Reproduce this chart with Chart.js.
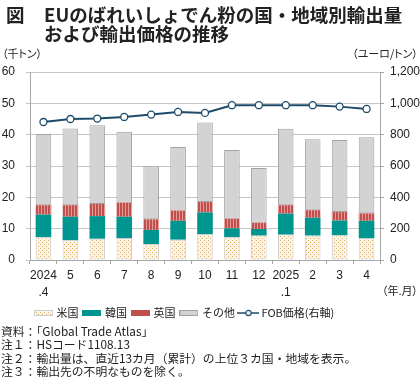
<!DOCTYPE html>
<html><head><meta charset="utf-8">
<script src="https://cdn.jsdelivr.net/npm/chart.js@4"></script>
<style>
html,body{margin:0;padding:0;background:#fff}
body{width:420px;height:381px;position:relative;overflow:hidden;font-family:"Noto Sans CJK JP","Noto Sans",sans-serif;color:#222}
#c{position:absolute;left:0;top:0}
.a{position:absolute;white-space:nowrap}
.p{font-feature-settings:"palt"}
.ttl{font-size:18.5px;line-height:19px;font-weight:bold;top:5px}
.unit{font-size:11px;line-height:12px;top:47px}
.notes{font-size:11.8px;line-height:13.3px;left:1px;top:324px}
</style></head><body>
<canvas id="c" width="420" height="381"></canvas>
<div class="a ttl" style="left:6px">図</div>
<div class="a ttl" style="left:44px">EUのばれいしょでん粉の国・地域別輸出量<br>および輸出価格の推移</div>
<div class="a unit p" style="left:2px">（千トン）</div>
<div class="a unit p" style="right:2px">（ユーロ/トン）</div>
<div class="a unit p" style="right:2px;top:284px">（年.月）</div>
<div class="a notes">資料：「Global Trade Atlas」<br>注１：HSコード1108.13<br>注２：輸出量は、直近13カ月（累計）の上位３カ国・地域を表示。<br>注３：輸出先の不明なものを除く。</div>
<script>
const categories = [['2024','.4'],'5','6','7','8','9','10','11','12',['2025','.1'],'2','3','4'];
const seriesNames = ['米国','韓国','英国','その他','FOB価格(右軸)'];
const usValues    = [7.3,6.3,6.8,7.0,5.1,6.5,8.3,7.3,7.8,8.1,7.8,7.9,7.0];
const koreaValues = [7.2,7.5,7.2,6.8,4.5,6.0,6.9,2.8,2.1,6.7,5.7,4.7,5.5];
const ukValues    = [3.0,3.7,3.9,4.5,3.4,3.3,3.3,3.1,2.0,2.7,2.4,2.7,2.4];
const otherValues = [22.7,24.5,25.1,22.6,16.9,20.3,25.4,21.9,17.5,24.4,22.6,23.0,24.3];
const fobPrice    = [881,900,903,913,928,945,939,988,988,988,988,979,964];
const leftAxis  = {min:0, max:60, step:10};
const rightAxis = {min:0, max:1200, step:200};

function tile(w,h,draw){const c=document.createElement('canvas');c.width=w;c.height=h;draw(c.getContext('2d'));return c;}
const dotTile = tile(4,4,x=>{x.fillStyle='#fdf4e4';x.fillRect(0,0,4,4);x.fillStyle='#dfae66';x.fillRect(0,0,1,1);x.fillRect(2,2,1,1);});
const stripeTile = tile(3,1,x=>{x.fillStyle='#c0504d';x.fillRect(0,0,3,1);x.fillStyle='#e59a96';x.fillRect(2,0,1,1);});
const pctx = document.getElementById('c').getContext('2d');
const usFill = pctx.createPattern(dotTile,'repeat');
const ukFill = pctx.createPattern(stripeTile,'repeat');
const teal = '#00958f', gray = '#d3d3d3', lineCol = '#1d4b69';

function pat(t){const c=document.createElement('canvas').getContext('2d');return c.createPattern(t,'repeat');}
function patch(fill, stroke){return tile(19,6,x=>{x.fillStyle=fill;x.fillRect(0,0,19,6);if(stroke){x.strokeStyle=stroke;x.lineWidth=1;x.strokeRect(0.5,0.5,18,5);}});}
function lineIcon(){return tile(22,8,x=>{x.strokeStyle=lineCol;x.lineWidth=1.5;x.beginPath();x.moveTo(0,4);x.lineTo(22,4);x.stroke();x.beginPath();x.arc(11,4,2.6,0,Math.PI*2);x.fillStyle='#fff';x.fill();x.lineWidth=1.2;x.stroke();});}
const icons = [
  patch(pat(dotTile), '#cfcfcf'),
  patch(teal, null),
  patch('#c0504d', null),
  patch(gray, '#a0a0a0'),
  lineIcon()
];

new Chart(document.getElementById('c'), {
  data: {
    labels: categories,
    datasets: [
      {type:'bar', label:seriesNames[0], data:usValues, backgroundColor:usFill, borderColor:'#cdcdcd', borderWidth:1, borderSkipped:false, yAxisID:'y', order:1},
      {type:'bar', label:seriesNames[1], data:koreaValues, backgroundColor:teal, borderWidth:0, yAxisID:'y', order:1},
      {type:'bar', label:seriesNames[2], data:ukValues, backgroundColor:ukFill, borderWidth:0, yAxisID:'y', order:1},
      {type:'bar', label:seriesNames[3], data:otherValues, backgroundColor:gray, borderColor:'#a3a3a3', borderWidth:1, borderSkipped:false, yAxisID:'y', order:1},
      {type:'line', label:seriesNames[4], data:fobPrice, yAxisID:'y1', borderColor:lineCol, borderWidth:2, pointRadius:3.5, pointBackgroundColor:'#fff', pointBorderColor:lineCol, pointBorderWidth:1.3, tension:0, order:0}
    ]
  },
  options: {
    responsive:false, animation:false,
    layout:{padding:{top:72,left:0,right:0,bottom:52.5}},
    datasets:{bar:{barPercentage:0.58, categoryPercentage:1}},
    plugins:{
      tooltip:{enabled:false},
      legend:{
        position:'bottom', align:'start', fullSize:false,
        labels:{
          font:{family:'"Noto Sans CJK JP"', size:11}, color:'#222', padding:6,
          usePointStyle:true, pointStyleWidth:15,
          generateLabels:(chart)=>chart.data.datasets.map((ds,i)=>({text:ds.label, pointStyle:icons[i], fillStyle:'rgba(0,0,0,0)', strokeStyle:'rgba(0,0,0,0)', lineWidth:0, datasetIndex:i, hidden:!chart.isDatasetVisible(i), fontColor:'#222'}))
        }
      }
    },
    scales:{
      x:{
        stacked:true, offset:true,
        grid:{drawOnChartArea:false, offset:true, tickLength:4, color:'#a6a6a6'},
        border:{color:'#a6a6a6'},
        ticks:{font:{family:'"Liberation Sans"', size:12, lineHeight:1.42}, color:'#222', padding:3, maxRotation:0, autoSkip:false},
        afterFit:s=>{s.height=41.5;}
      },
      y:{
        stacked:true, position:'left', min:leftAxis.min, max:leftAxis.max,
        grid:{color:'#c6c6c6', tickLength:4},
        border:{color:'#a6a6a6'},
        ticks:{stepSize:leftAxis.step, font:{family:'"Liberation Sans"', size:12}, color:'#222', padding:11},
        afterFit:s=>{s.width=30;}
      },
      y1:{
        position:'right', min:rightAxis.min, max:rightAxis.max,
        grid:{drawOnChartArea:false, tickLength:4, color:'#a6a6a6'},
        border:{color:'#a6a6a6'},
        ticks:{stepSize:rightAxis.step, font:{family:'"Liberation Sans"', size:12}, color:'#222', padding:6, callback:v=>v.toLocaleString('en-US')},
        afterFit:s=>{s.width=40;}
      }
    }
  }
});
</script>
</body></html>
